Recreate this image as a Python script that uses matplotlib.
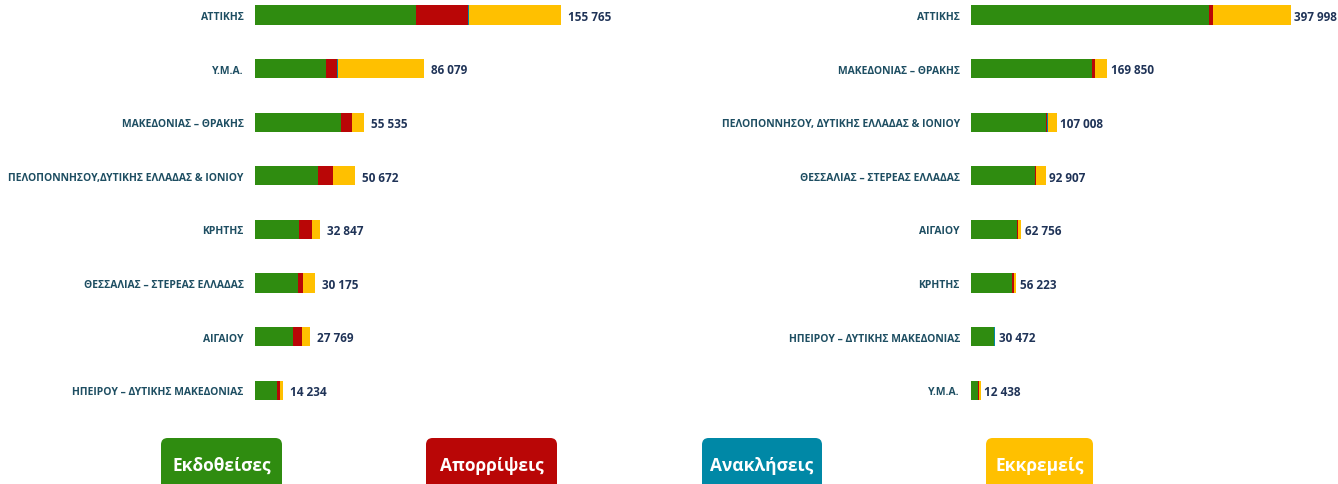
import matplotlib.pyplot as plt
from matplotlib.patches import FancyBboxPatch

# left panel
left_regions = ["ΑΤΤΙΚΗΣ", "Υ.Μ.Α.", "ΜΑΚΕΔΟΝΙΑΣ – ΘΡΑΚΗΣ",
                "ΠΕΛΟΠΟΝΝΗΣΟΥ,ΔΥΤΙΚΗΣ ΕΛΛΑΔΑΣ & ΙΟΝΙΟΥ", "ΚΡΗΤΗΣ",
                "ΘΕΣΣΑΛΙΑΣ – ΣΤΕΡΕΑΣ ΕΛΛΑΔΑΣ", "ΑΙΓΑΙΟΥ",
                "ΗΠΕΙΡΟΥ – ΔΥΤΙΚΗΣ ΜΑΚΕΔΟΝΙΑΣ"]
left_issued = [82100, 35900, 43500, 32000, 22200, 21600, 19300, 11000]
left_rejected = [26500, 5900, 5750, 7300, 6400, 2700, 4400, 1350]
left_revoked = [300, 100, 0, 50, 50, 30, 20, 20]
left_pending = [46865, 44179, 6285, 11322, 4197, 5845, 4049, 1864]
left_totals = [155765, 86079, 55535, 50672, 32847, 30175, 27769, 14234]

# right panel
right_regions = ["ΑΤΤΙΚΗΣ", "ΜΑΚΕΔΟΝΙΑΣ – ΘΡΑΚΗΣ",
                 "ΠΕΛΟΠΟΝΝΗΣΟΥ, ΔΥΤΙΚΗΣ ΕΛΛΑΔΑΣ & ΙΟΝΙΟΥ",
                 "ΘΕΣΣΑΛΙΑΣ – ΣΤΕΡΕΑΣ ΕΛΛΑΔΑΣ", "ΑΙΓΑΙΟΥ", "ΚΡΗΤΗΣ",
                 "ΗΠΕΙΡΟΥ – ΔΥΤΙΚΗΣ ΜΑΚΕΔΟΝΙΑΣ", "Υ.Μ.Α."]
right_issued = [296700, 150700, 93700, 79700, 57300, 51300, 28300, 8500]
right_rejected = [4900, 4100, 1500, 1600, 800, 1800, 700, 1000]
right_revoked = [300, 150, 200, 100, 400, 600, 400, 500]
right_pending = [96098, 14900, 11608, 11507, 4256, 2523, 1072, 2438]
right_totals = [397998, 169850, 107008, 92907, 62756, 56223, 30472, 12438]

legend_labels = ["Εκδοθείσες", "Απορρίψεις", "Ανακλήσεις", "Εκκρεμείς"]
colors = ["#2F8C10", "#B90606", "#0088A6", "#FFC000"]

W, H = 1338, 485
ROW = 53.6        # px between bars
FIRST = 16        # px from top to first bar centre
LABEL_COLOR = "#1E4E62"
VALUE_COLOR = "#1F3357"
FONT = ["Open Sans", "DejaVu Sans"]

fig = plt.figure(figsize=(W / 100, H / 100), dpi=100)


def panel(x0_px, width_px, per_px, regions, series, totals, pad, gap):
    ax = fig.add_axes([x0_px / W, 0, width_px / W, 1])
    ax.set_xlim(0, width_px * per_px)
    ax.set_ylim((H - FIRST) / ROW, -FIRST / ROW)
    ypos = list(range(len(regions)))
    left = [0] * len(regions)
    for vals, c in zip(series, colors):
        ax.barh(ypos, vals, left=left, height=0.355, color=c, linewidth=0)
        left = [a + b for a, b in zip(left, vals)]
    for y, end, tot in zip(ypos, left, totals):
        ax.annotate(f"{tot:,}".replace(",", " "), (end, y), xytext=(gap, -1),
                    textcoords="offset points", va="center", ha="left",
                    fontsize=8.5, fontweight="bold", color=VALUE_COLOR,
                    family=FONT, annotation_clip=False)
    ax.set_yticks(ypos)
    ax.set_yticklabels(regions, fontsize=7.5, fontweight="bold",
                       color=LABEL_COLOR, family=FONT)
    ax.tick_params(axis="y", length=0, pad=pad)
    ax.set_xticks([])
    for s in ax.spines.values():
        s.set_visible(False)
    ax.patch.set_alpha(0)
    return ax


panel(255.5, 330, 510, left_regions,
      [left_issued, left_rejected, left_revoked, left_pending], left_totals,
      8.5, 5)
panel(971, 340, 1245, right_regions,
      [right_issued, right_rejected, right_revoked, right_pending],
      right_totals, 8, 2.5)

# legend boxes along the bottom
box_x = [161, 426, 702, 986]
box_w = [121, 131, 120, 107]
for x, w, lab, c in zip(box_x, box_w, legend_labels, colors):
    fig.patches.append(FancyBboxPatch((x / W, -30 / H), w / W, (46 + 30) / H,
                                      boxstyle="round,pad=0,rounding_size=0.005",
                                      transform=fig.transFigure, facecolor=c,
                                      edgecolor="none", mutation_aspect=W / H))
    fig.text((x + w / 2) / W, (H - 466) / H, lab, ha="center", va="center",
             fontsize=12.5, fontweight="bold", color="white", family=FONT)

fig.savefig("out.png", dpi=100)
